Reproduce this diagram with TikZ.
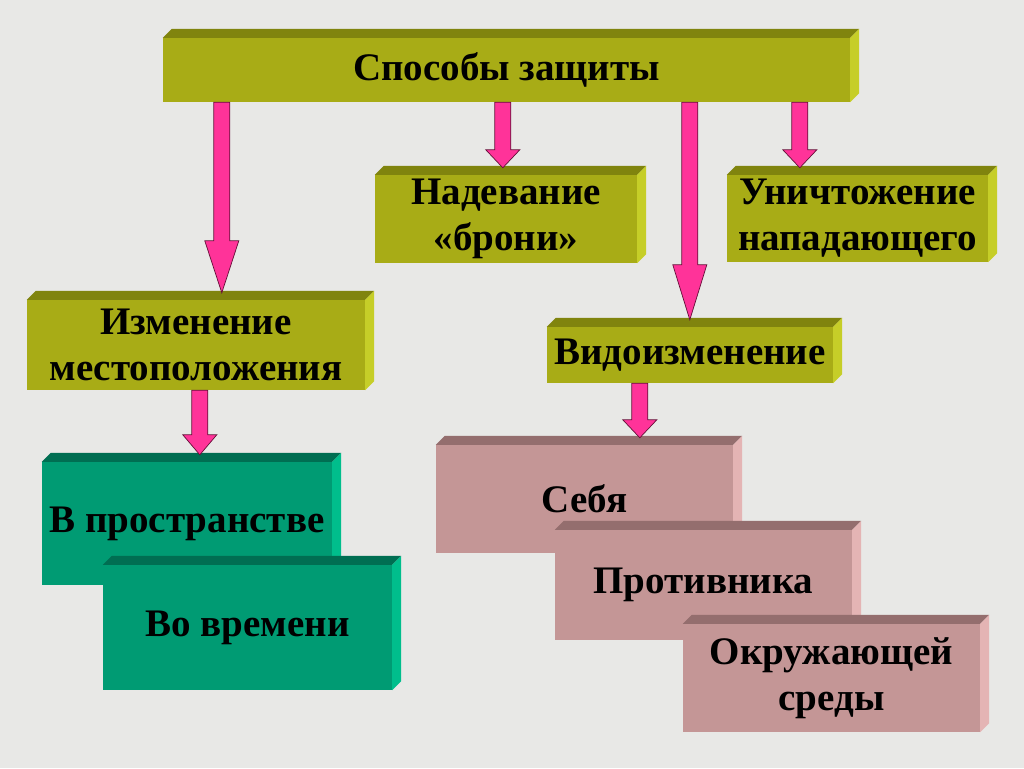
\documentclass[tikz,border=0pt]{standalone}
\usepackage{fontspec}
\setmainfont{Liberation Serif}
\usetikzlibrary{calc}
\definecolor{bg}{RGB}{232,232,230}
\definecolor{olF}{RGB}{168,172,22}
\definecolor{olT}{RGB}{128,132,14}
\definecolor{olR}{RGB}{198,206,40}
\definecolor{tlF}{RGB}{0,155,115}
\definecolor{tlT}{RGB}{0,110,82}
\definecolor{tlR}{RGB}{0,190,140}
\definecolor{pkF}{RGB}{196,150,150}
\definecolor{pkT}{RGB}{148,110,110}
\definecolor{pkR}{RGB}{228,180,180}
\definecolor{apink}{RGB}{255,51,153}
\definecolor{aedge}{RGB}{100,15,55}
\newcommand\bevel[3]{%
  \fill[#2] (#1.north west) -- ++(9,-9) -- ($(#1.north east)+(9,-9)$) -- (#1.north east) -- cycle;
  \fill[#3] (#1.north east) -- ++(9,-9) -- ($(#1.south east)+(9,-9)$) -- (#1.south east) -- cycle;}
\newcommand\parrow[3]{%
  \draw[arr] let \p1=(#1), \p2=(#2) in
   (\x1-8pt,\y1) -- (\x1-8pt,\y2+7pt+#3pt) -- (\x1-17pt,\y2+7pt+#3pt) -- (\x1,\y2+7pt)
   -- (\x1+17pt,\y2+7pt+#3pt) -- (\x1+8pt,\y2+7pt+#3pt) -- (\x1+8pt,\y1) -- cycle;}
\begin{document}
\begin{tikzpicture}[x=1pt,y=-1pt,
  box/.style={inner sep=0pt, align=center, font=\fontsize{39}{46}\selectfont\bfseries},
  olbox/.style={box, fill=olF},
  tlbox/.style={box, fill=tlF},
  pkbox/.style={box, fill=pkF},
  arr/.style={fill=apink, draw=aedge, line width=0.7pt, line join=miter}]
\fill[bg] (0,0) rectangle (1024,768);
\useasboundingbox (0,0) rectangle (1024,768);

\node[olbox, minimum width=687, minimum height=64] (top) at (506.5,70) {\raisebox{-4pt}{Способы защиты}};
\bevel{top}{olT}{olR}
\node[olbox, minimum width=262, minimum height=88] (arm) at (506,219) {Надевание\\«брони»};
\bevel{arm}{olT}{olR}
\node[olbox, minimum width=261, minimum height=87] (kill) at (857.5,218.5) {Уничтожение\\нападающего};
\bevel{kill}{olT}{olR}
\node[olbox, minimum width=338, minimum height=90] (chg) at (196,345) {Изменение\\местоположения};
\bevel{chg}{olT}{olR}
\node[olbox, minimum width=286, minimum height=56] (vid) at (690,355) {\raisebox{-2pt}{Видоизменение}};
\bevel{vid}{olT}{olR}

\node[tlbox, minimum width=290, minimum height=123] (space) at (187,523.5) {\raisebox{-2pt}{В пространстве}};
\bevel{space}{tlT}{tlR}
\node[tlbox, minimum width=289, minimum height=125] (time) at (247.5,627.5) {\raisebox{-2pt}{Во времени}};
\bevel{time}{tlT}{tlR}

\node[pkbox, minimum width=297, minimum height=108] (self) at (584.5,499) {Себя};
\bevel{self}{pkT}{pkR}
\node[pkbox, minimum width=297, minimum height=110] (enemy) at (703.5,585) {Противника};
\bevel{enemy}{pkT}{pkR}
\node[pkbox, minimum width=297, minimum height=108] (env) at (831.5,678) {Окружающей\\среды};
\bevel{env}{pkT}{pkR}

\coordinate (a1) at ($(top.south west)+(59,0)$);
\coordinate (a2) at ($(top.south west)+(340,0)$);
\coordinate (a3) at ($(top.south west)+(527,0)$);
\coordinate (a4) at ($(top.south west)+(637,0)$);
\coordinate (a5) at ($(chg.south west)+(173,0)$);
\coordinate (a6) at ($(vid.south west)+(93,0)$);
\parrow{a1}{chg.north}{52}
\parrow{a2}{arm.north}{18}
\parrow{a3}{vid.north}{55}
\parrow{a4}{kill.north}{18}
\parrow{a5}{space.north}{20}
\parrow{a6}{self.north}{18}
\end{tikzpicture}
\end{document}
